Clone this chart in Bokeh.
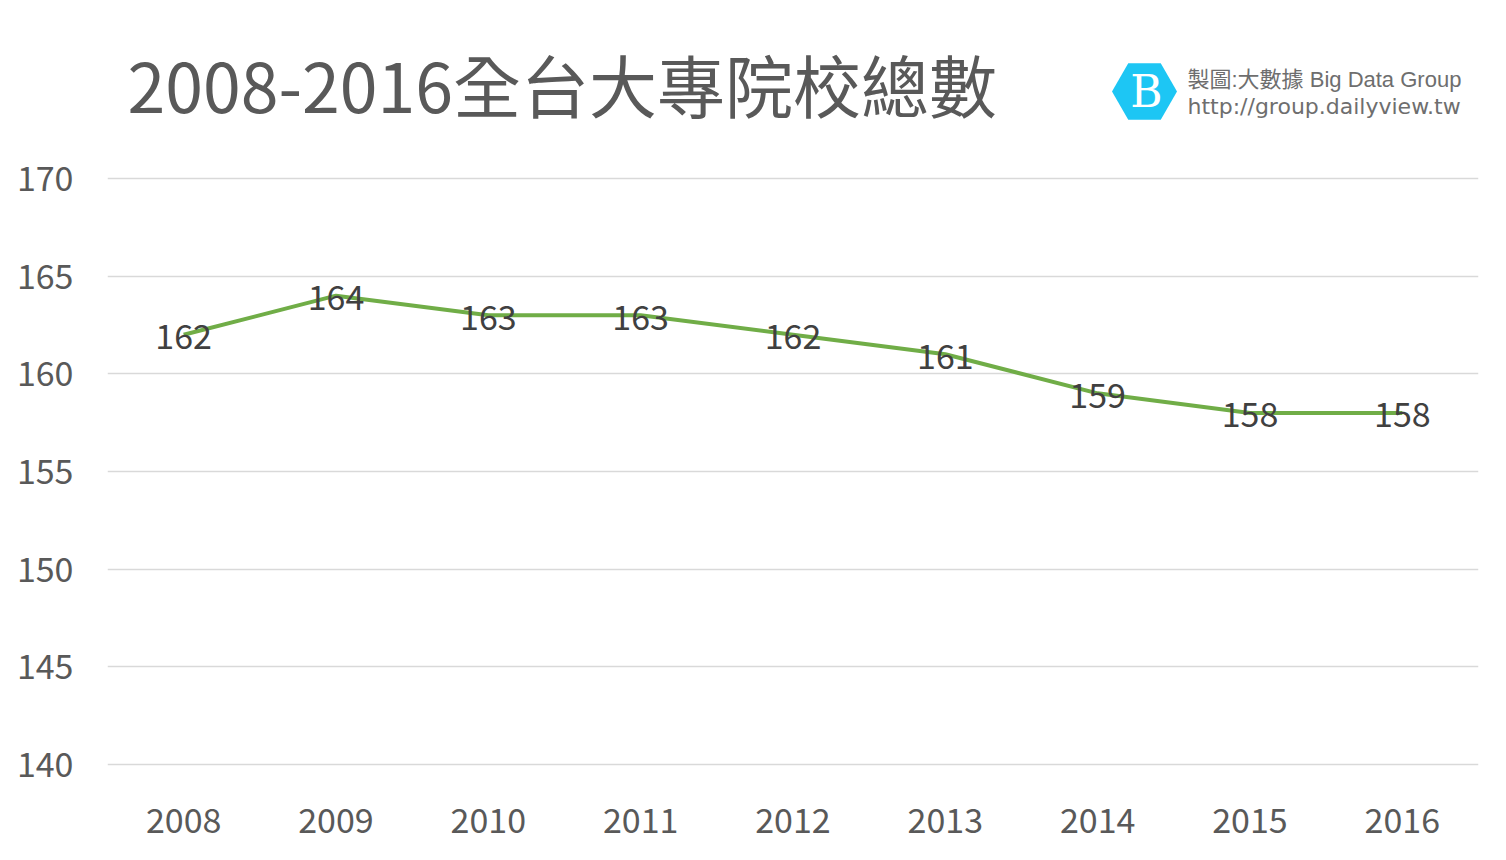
from bokeh.plotting import figure
from bokeh.models import FactorRange, Range1d, FixedTicker, Label, ColumnDataSource
from bokeh.core.properties import value
from bokeh.embed import file_html
from bokeh.resources import INLINE

years = ["2008", "2009", "2010", "2011", "2012", "2013", "2014", "2015", "2016"]
counts = [162, 164, 163, 163, 162, 161, 159, 158, 158]
y_ticks = [140, 145, 150, 155, 160, 165, 170]
title_text = "2008-2016全台大專院校總數"
credit_line1 = "製圖:大數據 Big Data Group"
credit_line2 = "http://group.dailyview.tw"

FONT = "Noto Sans CJK TC"
FRAME_W, FRAME_H = 1371, 766
Y0, Y1 = 139.49, 178.70

p = figure(x_range=FactorRange(*years, range_padding=0), y_range=Range1d(Y0, Y1),
           frame_width=FRAME_W, frame_height=FRAME_H, output_backend="svg",
           toolbar_location=None, title=None,
           min_border_left=107, min_border_right=20, min_border_top=8, min_border_bottom=78)
p.outline_line_color = None
p.background_fill_color = "white"
p.border_fill_color = "white"

# axes
p.yaxis.ticker = FixedTicker(ticks=y_ticks)
for ax in (p.xaxis[0], p.yaxis[0]):
    ax.axis_line_color = None
    ax.major_tick_line_color = None
    ax.minor_tick_line_color = None
    ax.major_label_text_font = FONT
    ax.major_label_text_font_size = "34px"
    ax.major_label_text_color = "#595959"
p.yaxis.major_label_standoff = 28
p.xaxis.major_label_standoff = 27
p.xgrid.grid_line_color = None
p.ygrid.ticker = FixedTicker(ticks=y_ticks)
p.ygrid.grid_line_color = "#d9d9d9"
p.ygrid.grid_line_width = 1.5

src = ColumnDataSource(dict(x=years, y=counts, t=[str(c) for c in counts]))
p.line("x", "y", source=src, line_color="#70AD47", line_width=4)
p.text("x", "y", text="t", source=src, text_font=value(FONT), text_font_size="34px",
       text_color="#404040", text_align="center", text_baseline="middle", y_offset=2)

# helpers: frame pixel -> data coordinates for decorations
def dx(px):
    return px / (FRAME_W / len(years))

def dy(py):
    return Y1 - py * (Y1 - Y0) / FRAME_H

p.add_layout(Label(x=dx(20), y=dy(75), text=title_text, text_font=FONT,
                   text_font_size="68px", text_color="#595959",
                   text_baseline="alphabetic", text_align="left"))

# logo
p.scatter(x=[dx(1037)], y=[dy(83)], marker="hex", size=65,
          fill_color="#1DC6F4", line_color=None)
p.text(x=[dx(1037)], y=[dy(83)], text=["B"], text_font=value("DejaVu Serif"),
       text_font_size="44px", text_color="white", text_align="center",
       text_baseline="middle", x_offset=2)

p.add_layout(Label(x=dx(1080), y=dy(71), text=credit_line1,
                   text_font="Liberation Sans, Noto Sans CJK TC",
                   text_font_size="22px", text_color="#6e6e6e",
                   text_baseline="middle", text_align="left"))
p.add_layout(Label(x=dx(1080), y=dy(98), text=credit_line2,
                   text_font="DejaVu Sans",
                   text_font_size="22px", text_color="#6e6e6e",
                   text_baseline="middle", text_align="left"))

open("out.html", "w").write(file_html(p, INLINE))
